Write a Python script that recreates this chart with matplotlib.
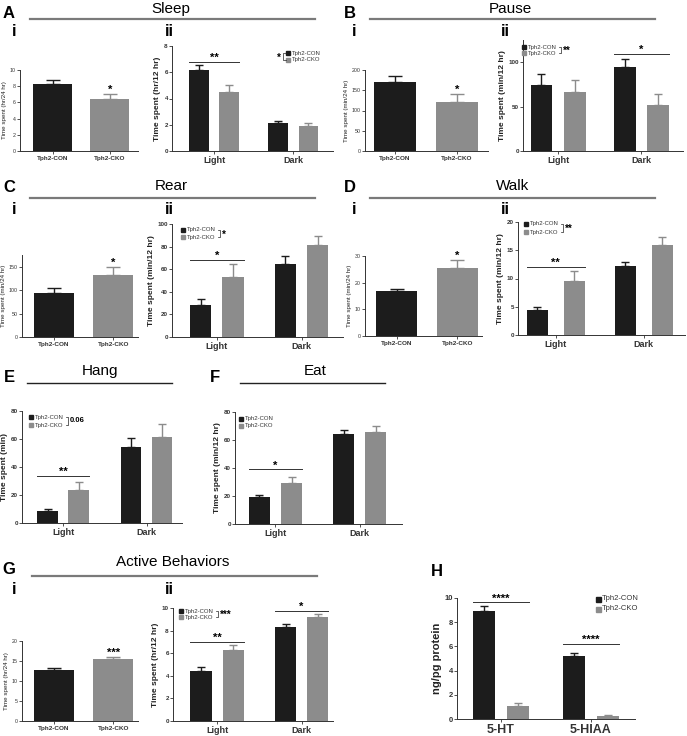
import matplotlib
matplotlib.use('Agg')
import matplotlib.pyplot as plt
from matplotlib.lines import Line2D
from matplotlib.patches import Rectangle
import numpy as np

plt.rcParams['font.family'] = ['Liberation Sans', 'DejaVu Sans']

W, H = 687, 736
BLACK = '#1c1c1c'
GREY = '#8c8c8c'

# --- data ---
groups = ['Tph2-CON', 'Tph2-CKO']
periods = ['Light', 'Dark']
compounds = ['5-HT', '5-HIAA']

sleep_day = [8.25, 6.4]
sleep_day_err = [0.5, 0.6]
sleep_con = [6.15, 2.12]
sleep_con_err = [0.4, 0.2]
sleep_cko = [4.5, 1.87]
sleep_cko_err = [0.5, 0.3]

pause_day = [170, 120]
pause_day_err = [14, 20]
pause_con = [74, 95]
pause_con_err = [13, 9]
pause_cko = [67, 52]
pause_cko_err = [13, 12]

rear_day = [93, 133]
rear_day_err = [11, 17]
rear_con = [28, 64.5]
rear_con_err = [5.5, 7.5]
rear_cko = [53, 81]
rear_cko_err = [11.5, 8]

walk_day = [16.8, 25.5]
walk_day_err = [0.8, 3.0]
walk_con = [4.5, 12.2]
walk_con_err = [0.5, 0.7]
walk_cko = [9.5, 16.0]
walk_cko_err = [1.8, 1.4]

hang_con = [8.5, 54]
hang_con_err = [1.5, 7]
hang_cko = [23.5, 61.5]
hang_cko_err = [6, 9.5]

eat_con = [19, 64]
eat_con_err = [2, 3.5]
eat_cko = [29, 65.5]
eat_cko_err = [4.5, 4.5]

active_day = [12.7, 15.5]
active_day_err = [0.5, 0.6]
active_con = [4.45, 8.3]
active_con_err = [0.3, 0.25]
active_cko = [6.3, 9.2]
active_cko_err = [0.4, 0.3]

sero_con = [8.95, 5.2]
sero_con_err = [0.35, 0.25]
sero_cko = [1.05, 0.25]
sero_cko_err = [0.25, 0.12]

fig = plt.figure(figsize=(W / 100, H / 100), dpi=100)


def px_axes(l, t, r, b):
    return fig.add_axes([l / W, 1 - b / H, (r - l) / W, (b - t) / H])


def ftext(x, y, s, **kw):
    kw.setdefault('ha', 'center')
    kw.setdefault('va', 'center')
    fig.text(x / W, 1 - y / H, s, **kw)


def fline(xs, ys, color='#222222', lw=0.6):
    fig.add_artist(Line2D([x / W for x in xs], [1 - y / H for y in ys],
                          color=color, lw=lw, transform=fig.transFigure))


def header(letter, lx, ly, title, tx, ty, x1, x2, ly2, lcolor='#7a7a7a', lw=1.6):
    ftext(lx, ly, letter, fontsize=12, fontweight='bold')
    ftext(tx, ty, title, fontsize=11)
    fline([x1, x2], [ly2, ly2], color=lcolor, lw=lw)


def legend(x, y1, y2, fs=4.3, bracket_x=None, label=None, left=False, sq=4):
    for y, c, name in [(y1, BLACK, groups[0]), (y2, GREY, groups[1])]:
        fig.add_artist(Rectangle(((x - sq / 2) / W, 1 - (y + sq / 2) / H), sq / W, sq / H,
                                 color=c, transform=fig.transFigure))
        ftext(x + sq / 2 + 1.5, y, name, fontsize=fs, ha='left', color='#333333')
    if bracket_x is None:
        return
    d = 2.5 if left else -2.5
    fline([bracket_x + d, bracket_x, bracket_x, bracket_x + d], [y1, y1, y2, y2], lw=0.5)
    if left:
        ftext(bracket_x - 2, (y1 + y2) / 2 + 1, label, fontsize=7, ha='right', fontweight='bold')
    else:
        ftext(bracket_x + 2, (y1 + y2) / 2 + (1 if '*' in label else 0), label,
              fontsize=7 if '*' in label else 5.5, ha='left', fontweight='bold')


def style(ax, ylim, yticks, tick_fs, ylabel, label_fs, bold):
    for s in ['top', 'right']:
        ax.spines[s].set_visible(False)
    for s in ['left', 'bottom']:
        ax.spines[s].set_color('#333333')
        ax.spines[s].set_linewidth(0.7)
    ax.set_ylim(*ylim)
    ax.set_yticks(yticks)
    ax.tick_params(axis='y', labelsize=tick_fs, length=2, width=0.6, pad=1, colors='#333333')
    ax.tick_params(axis='x', length=2, width=0.6, pad=1.5, colors='#333333')
    ax.set_ylabel(ylabel, fontsize=label_fs, fontweight='bold' if bold else 'normal',
                  labelpad=2, color='#222222')
    for lab in ax.get_yticklabels():
        lab.set_fontweight('bold' if bold else 'normal')


def day_panel(box, vals, errs, ylim, yticks, ylabel, star, xlim=(-0.52, 1.45)):
    ax = px_axes(*box)
    x = np.arange(2)
    colors = [BLACK, GREY]
    ax.bar(x, vals, width=0.68, color=colors)
    for xi, v, e, c in zip(x, vals, errs, colors):
        ax.errorbar(xi, v, yerr=[[0], [e]], fmt='none', ecolor=c, capsize=5, elinewidth=1, capthick=1)
    ax.text(1, vals[1] + errs[1] - 0.01 * ylim[1], star, ha='center', va='bottom',
            fontsize=8, fontweight='bold')
    ax.set_xlim(*xlim)
    ax.set_xticks(x)
    ax.set_xticklabels(groups, fontsize=4.6, fontweight='bold')
    style(ax, ylim, yticks, 3.8, ylabel, 4.5, False)
    return ax


def period_panel(box, con, con_err, cko, cko_err, ylim, yticks, ylabel, xlim, sigs,
                 labels=periods, off=0.19, w=0.25, tick_fs=4.5, xfs=6.5, yfs=6):
    ax = px_axes(*box)
    x = np.arange(2)
    ax.bar(x - off, con, w, color=BLACK)
    ax.bar(x + off, cko, w, color=GREY)
    for xi, v, e in zip(x - off, con, con_err):
        ax.errorbar(xi, v, yerr=[[0], [e]], fmt='none', ecolor=BLACK, capsize=3, elinewidth=1, capthick=1)
    for xi, v, e in zip(x + off, cko, cko_err):
        ax.errorbar(xi, v, yerr=[[0], [e]], fmt='none', ecolor=GREY, capsize=3, elinewidth=1, capthick=1)
    for gi, ysig, star in sigs:
        ax.plot([gi - off - w / 2, gi + off + w / 2], [ysig, ysig], color='#333333', lw=0.7)
        ax.text(gi, ysig - 0.01 * ylim[1], star, ha='center', va='bottom',
                fontsize=8, fontweight='bold')
    ax.set_xlim(*xlim)
    ax.set_xticks(x)
    ax.set_xticklabels(labels, fontsize=xfs, fontweight='bold')
    style(ax, ylim, yticks, tick_fs, ylabel, yfs, True)
    return ax


# ---------------- A: Sleep ----------------
header('A', 9, 14, 'Sleep', 171, 9, 30, 315, 19)
ftext(14, 31, 'i', fontsize=12, fontweight='bold')
ftext(169, 31, 'ii', fontsize=12, fontweight='bold')
day_panel((20, 70, 138, 151), sleep_day, sleep_day_err, (0, 10), range(0, 11, 2),
          'Time spent (hr/24 hr)', '*', xlim=(-0.57, 1.49))
period_panel((172, 46, 333, 151), sleep_con, sleep_con_err, sleep_cko, sleep_cko_err,
             (0, 8), range(0, 9, 2), 'Time spent (hr/12 hr)', (-0.53, 1.5),
             [(0, 6.8, '**')])
legend(288, 53, 60, bracket_x=283, label='*', left=True)

# ---------------- B: Pause ----------------
header('B', 350, 14, 'Pause', 510, 9, 370, 655, 19)
ftext(354, 31, 'i', fontsize=12, fontweight='bold')
ftext(505, 31, 'ii', fontsize=12, fontweight='bold')
day_panel((365, 70, 488, 151), pause_day, pause_day_err, (0, 200), range(0, 201, 50),
          'Time spent (min/24 hr)', '*', xlim=(-0.48, 1.5))
period_panel((523, 40, 683, 151), pause_con, pause_con_err, pause_cko, pause_cko_err,
             (0, 125), [0, 50, 100], 'Time spent (min/12 hr)', (-0.42, 1.5),
             [(1, 109, '*')], off=0.2, w=0.26)
legend(524, 47, 53, bracket_x=561, label='**')

# ---------------- C: Rear ----------------
header('C', 9, 188, 'Rear', 171, 186, 30, 315, 198)
ftext(14, 210, 'i', fontsize=12, fontweight='bold')
ftext(169, 210, 'ii', fontsize=12, fontweight='bold')
day_panel((22, 255, 138, 337), rear_day, rear_day_err, (0, 175), [0, 50, 100, 150],
          'Time spent (min/24 hr)', '*', xlim=(-0.54, 1.42))
period_panel((172, 224, 343, 337), rear_con, rear_con_err, rear_cko, rear_cko_err,
             (0, 100), range(0, 101, 20), 'Time spent (min/12 hr)', (-0.53, 1.49),
             [(0, 68.5, '*')])
legend(183, 230, 237, bracket_x=220, label='*')

# ---------------- D: Walk ----------------
header('D', 350, 188, 'Walk', 513, 186, 370, 655, 198)
ftext(354, 210, 'i', fontsize=12, fontweight='bold')
ftext(505, 210, 'ii', fontsize=12, fontweight='bold')
day_panel((365, 256, 482, 336), walk_day, walk_day_err, (0, 30), [0, 10, 20, 30],
          'Time spent (min/24 hr)', '*', xlim=(-0.52, 1.41))
period_panel((518, 222, 685, 335), walk_con, walk_con_err, walk_cko, walk_cko_err,
             (0, 20), range(0, 21, 5), 'Time spent (min/12 hr)', (-0.43, 1.47),
             [(0, 12.0, '**')], off=0.21, w=0.24)
legend(526, 224, 232, bracket_x=563, label='**')

# ---------------- E: Hang ----------------
header('E', 9, 378, 'Hang', 100, 371, 27, 172, 383, lcolor='#222222', lw=1.0)
period_panel((22, 411, 182, 523), hang_con, hang_con_err, hang_cko, hang_cko_err,
             (0, 80), range(0, 81, 20), 'Time spent (min)', (-0.49, 1.42),
             [(0, 33.5, '**')], off=0.185, w=0.24)
legend(31, 417, 425, bracket_x=68, label='0.06')

# ---------------- F: Eat ----------------
header('F', 215, 378, 'Eat', 315, 371, 240, 385, 383, lcolor='#222222', lw=1.0)
period_panel((235, 412, 402, 524), eat_con, eat_con_err, eat_cko, eat_cko_err,
             (0, 80), range(0, 81, 20), 'Time spent (min/12 hr)', (-0.48, 1.5),
             [(0, 39, '*')])
legend(241, 419, 426)

# ---------------- G: Active Behaviors ----------------
header('G', 9, 570, 'Active Behaviors', 173, 562, 32, 317, 576)
ftext(14, 590, 'i', fontsize=12, fontweight='bold')
ftext(169, 590, 'ii', fontsize=12, fontweight='bold')
day_panel((22, 641, 138, 721), active_day, active_day_err, (0, 20), range(0, 21, 5),
          'Time spent (hr/24 hr)', '***', xlim=(-0.54, 1.42))
period_panel((173, 608, 333, 721), active_con, active_con_err, active_cko, active_cko_err,
             (0, 10), range(0, 11, 2), 'Time spent (hr/12 hr)', (-0.52, 1.37),
             [(0, 7.0, '**'), (1, 9.75, '*')])
legend(181, 611, 617, bracket_x=218, label='***')

# ---------------- H: serotonin ----------------
ftext(437, 571, 'H', fontsize=12, fontweight='bold')
period_panel((457, 598, 635, 719), sero_con, sero_con_err, sero_cko, sero_cko_err,
             (0, 10), range(0, 11, 2), 'ng/pg protein', (-0.49, 1.49),
             [(0, 9.65, '****'), (1, 6.2, '****')], labels=compounds,
             off=0.19, w=0.245, tick_fs=5.5, xfs=9, yfs=8)
legend(598, 599, 609, fs=5.5, sq=5)

fig.savefig('out.png', dpi=100)
